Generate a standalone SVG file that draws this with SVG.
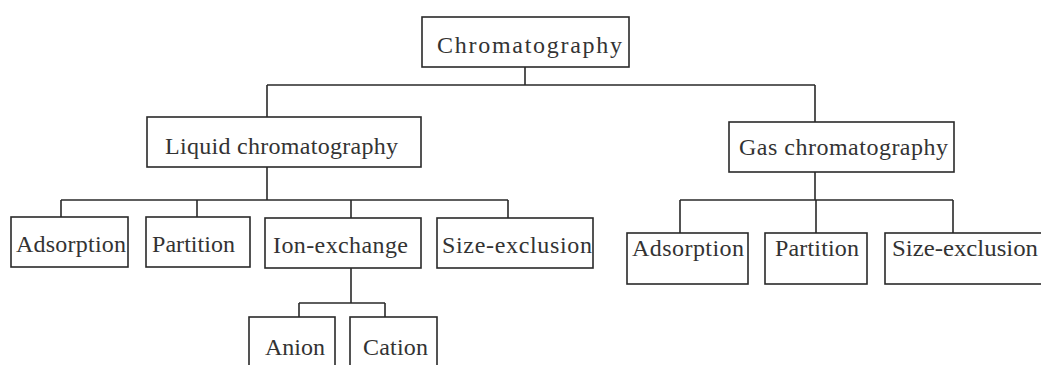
<svg xmlns="http://www.w3.org/2000/svg" width="1041" height="365" viewBox="0 0 1041 365">
<style>
.box{fill:#fff;stroke:#2a2a2a;stroke-width:1.6}
.lbl{font-family:'Liberation Serif','Times New Roman','DejaVu Serif',serif;font-size:24px;fill:#333}
.con{fill:none;stroke:#2a2a2a;stroke-width:1.6}
</style>
<rect width="1041" height="365" fill="#fff"/>
<g id="connectors" class="con">
<path d="M525,67V85M267,85H815M267,85V117M815,85V122"/>
<path d="M267,167V200M61,200H508M61,200V217M197,200V217M351,200V218M508,200V218"/>
<path d="M815,172V200M680,200H953M680,200V233M816,200V233M953,200V233"/>
<path d="M351,268V303M299,303H385M299,303V317M385,303V317"/>
</g>
<g id="chromatography"><rect class="box" x="422" y="17" width="207" height="50"/><text class="lbl" x="437" y="53" textLength="185" lengthAdjust="spacing">Chromatography</text></g>
<g id="liquid"><rect class="box" x="147" y="117" width="274" height="50"/><text class="lbl" x="165" y="154" textLength="233" lengthAdjust="spacing">Liquid chromatography</text></g>
<g id="gas"><rect class="box" x="729" y="122" width="225" height="50"/><text class="lbl" x="739" y="155" textLength="209" lengthAdjust="spacing">Gas chromatography</text></g>
<g id="lc-adsorption"><rect class="box" x="11" y="217" width="117" height="50"/><text class="lbl" x="16" y="252" textLength="110" lengthAdjust="spacing">Adsorption</text></g>
<g id="lc-partition"><rect class="box" x="146" y="217" width="104" height="50"/><text class="lbl" x="152" y="252" textLength="83" lengthAdjust="spacing">Partition</text></g>
<g id="lc-ion-exchange"><rect class="box" x="265" y="218" width="156" height="50"/><text class="lbl" x="273" y="253" textLength="135" lengthAdjust="spacing">Ion-exchange</text></g>
<g id="lc-size-exclusion"><rect class="box" x="437" y="218" width="156" height="50"/><text class="lbl" x="442" y="253" textLength="150" lengthAdjust="spacing">Size-exclusion</text></g>
<g id="gc-adsorption"><rect class="box" x="627" y="233" width="121" height="51"/><text class="lbl" x="632" y="256" textLength="112" lengthAdjust="spacing">Adsorption</text></g>
<g id="gc-partition"><rect class="box" x="765" y="233" width="102" height="51"/><text class="lbl" x="775" y="256" textLength="84" lengthAdjust="spacing">Partition</text></g>
<g id="gc-size-exclusion"><rect class="box" x="885" y="233" width="170" height="51"/><text class="lbl" x="892" y="256" textLength="146" lengthAdjust="spacingAndGlyphs">Size-exclusion</text></g>
<g id="anion"><rect class="box" x="249" y="317" width="86" height="56"/><text class="lbl" x="265" y="355" textLength="60" lengthAdjust="spacing">Anion</text></g>
<g id="cation"><rect class="box" x="350" y="317" width="87" height="56"/><text class="lbl" x="363" y="355" textLength="65" lengthAdjust="spacing">Cation</text></g>
</svg>
